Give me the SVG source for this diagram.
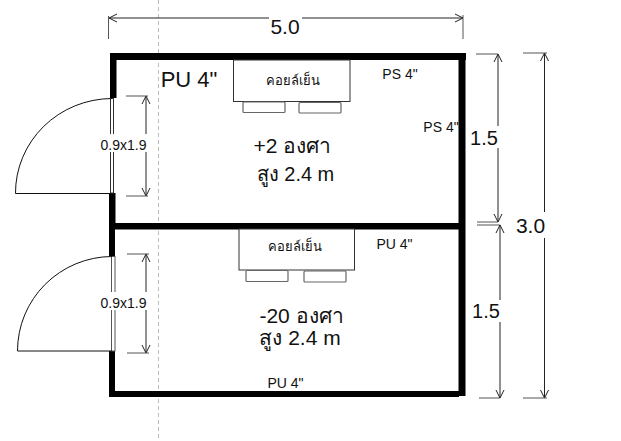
<svg xmlns="http://www.w3.org/2000/svg" width="621" height="441" viewBox="0 0 621 441">
<style>
text{font-family:"Liberation Sans","Noto Sans",sans-serif;fill:#111;text-anchor:middle}
.wall{fill:#000}
.thin{fill:none;stroke:#111;stroke-width:1}
.gray{fill:none;stroke:#555;stroke-width:1}
.box{fill:#fff;stroke:#333;stroke-width:1}
.mini{fill:#fff;stroke:#666;stroke-width:1.2}
.dim{fill:none;stroke:#222;stroke-width:1;marker-start:url(#a);marker-end:url(#a)}
.bg{fill:#fff}
.s22{font-size:22px}.s21{font-size:21px}.s20{font-size:20px}.s14{font-size:14px}.s13{font-size:13px}
</style>
<defs><marker id="a" viewBox="0 0 10 10" refX="9" refY="5" markerWidth="10" markerHeight="10" markerUnits="userSpaceOnUse" orient="auto-start-reverse"><path d="M1 1L9 5L1 9" fill="none" stroke="#222" stroke-width="1"/></marker></defs>
<rect width="621" height="441" fill="#fff"/>
<path d="M158.500 0V441" fill="none" stroke="#bbb" stroke-width="1" stroke-dasharray="4 3"/>
<g id="walls">
<rect class="wall" x="110" y="53" width="356" height="7"/>
<rect class="wall" x="110" y="53" width="6.500" height="45"/>
<rect class="wall" x="109" y="193" width="6.500" height="36"/>
<rect class="wall" x="109" y="223" width="356" height="6.500"/>
<rect class="wall" x="109" y="229" width="6" height="27"/>
<rect class="wall" x="109" y="351" width="6" height="46"/>
<rect class="wall" x="109" y="391" width="350" height="6"/>
<rect class="wall" x="458.500" y="53" width="7" height="343"/>
</g>
<g id="door-upper">
<rect x="110.500" y="98.500" width="3" height="94.500" fill="#fff" stroke="#333"/>
<path class="thin" d="M112 98.500A97 94.500 0 0 0 15.500 193.500H112"/>
</g>
<g id="door-lower">
<rect x="111.500" y="256.500" width="3.500" height="94.500" fill="#fff" stroke="#555"/>
<path class="thin" d="M112 256.500A95 94.500 0 0 0 17.500 351H112"/>
</g>
<g id="coil-upper">
<rect class="box" x="233.500" y="60" width="116.500" height="41.500"/>
<rect class="mini" x="243" y="102" width="42" height="10.500" rx="1"/>
<rect class="mini" x="299" y="102.500" width="42" height="10.500" rx="1"/>
<text class="s13" x="293" y="84.500">คอยล์เย็น</text>
</g>
<g id="coil-lower">
<rect class="box" x="239" y="229" width="115.500" height="41"/>
<rect class="mini" x="246" y="270.500" width="42" height="11" rx="1"/>
<rect class="mini" x="304" y="271" width="42" height="11" rx="1"/>
<text class="s13" x="295" y="251">คอยล์เย็น</text>
</g>
<g id="connectors">
<path class="dim" d="M109 18H463"/>
<path class="gray" d="M108.500 16V39M463 15V39"/>
<path class="dim" d="M146 96V196"/>
<path class="gray" d="M126 96H148M126 196H148"/>
<path class="dim" d="M146 254V353"/>
<path class="gray" d="M127 254H149M127 353H149"/>
<path class="dim" d="M498 54V222"/>
<path class="gray" d="M476 54H498M477 222H498M477 225H500M479 398H500"/>
<path class="dim" d="M500 225V398"/>
<path class="dim" d="M544.500 53V398"/>
<path class="gray" d="M523 53H547M523 398H547"/>
</g>
<g id="labels">
<rect class="bg" x="269" y="12" width="33" height="24"/>
<text class="s21" x="285" y="33.500">5.0</text>
<text class="s22" x="189" y="87">PU 4"</text>
<text class="s14" x="400" y="79">PS 4"</text>
<text class="s14" x="441" y="132">PS 4"</text>
<rect class="bg" x="469" y="126" width="30" height="22"/>
<text class="s20" x="484" y="145">1.5</text>
<rect class="bg" x="100" y="134" width="47" height="18"/>
<text class="s14" x="123.500" y="150">0.9x1.9</text>
<rect class="bg" x="100" y="292" width="47" height="18"/>
<text class="s14" x="123.500" y="308">0.9x1.9</text>
<text class="s21" x="292.500" y="153">+2 องศา</text>
<text class="s20" x="295.500" y="181">สูง 2.4 m</text>
<text class="s14" x="394.500" y="249">PU 4"</text>
<rect class="bg" x="471" y="300" width="31" height="22"/>
<text class="s20" x="486" y="318">1.5</text>
<text class="s21" x="301.500" y="323">-20 องศา</text>
<text class="s21" x="300" y="345">สูง 2.4 m</text>
<text class="s14" x="285.500" y="388">PU 4"</text>
<rect class="bg" x="514" y="212" width="33" height="26"/>
<text class="s21" x="530.500" y="233">3.0</text>
</g>
</svg>
